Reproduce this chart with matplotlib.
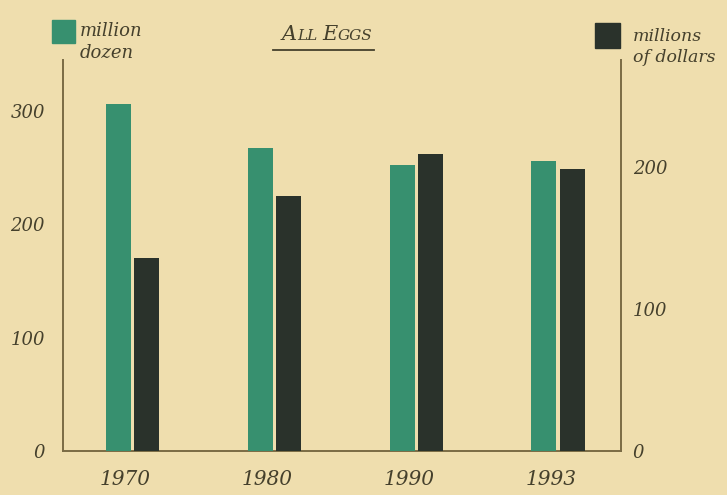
import matplotlib.pyplot as plt
import numpy as np
from matplotlib.offsetbox import TextArea, HPacker, AnchoredOffsetbox
from matplotlib.patches import Rectangle
from matplotlib.lines import Line2D

years = ['1970', '1980', '1990', '1993']
dozens = [306, 267, 252, 256]      # million dozen (left axis)
dollars = [136, 179, 209, 198]     # millions of dollars (right axis)
left_ticks = [0, 100, 200, 300]
right_ticks = [0, 100, 200]

bg = '#EFDEAE'
green = '#37906F'
dark = '#2A322B'
line_col = '#7A6B45'
txt_col = '#45402C'
serif = ['DejaVu Serif']

fig = plt.figure(figsize=(7.27, 4.95), dpi=100, facecolor=bg)
ax = fig.add_axes([63 / 727, 44 / 495, (621 - 63) / 727, (451 - 60) / 495])
ax.set_facecolor(bg)
ax2 = ax.twinx()

x = np.arange(len(years))
w = 0.176
off = 0.099
ax.bar(x - off, dozens, w, color=green, zorder=3)
ax2.bar(x + off, dollars, w, color=dark, zorder=3)

ax.set_xlim(-0.49, 3.444)
ax.set_ylim(0, 345)
ax2.set_ylim(0, 275)

ax.set_yticks(left_ticks)
ax2.set_yticks(right_ticks)
ax.set_xticks(x - 0.05)
ax.set_xticklabels(years)

for a in (ax, ax2):
    a.spines['top'].set_visible(False)
    for s in ('left', 'right', 'bottom'):
        a.spines[s].set_color(line_col)
        a.spines[s].set_linewidth(1.4)
ax.spines['right'].set_visible(False)
ax2.spines['left'].set_visible(False)
ax2.spines['bottom'].set_visible(False)

ax.tick_params(axis='y', length=0, pad=13, labelsize=13, labelcolor=txt_col)
ax2.tick_params(axis='y', length=0, pad=8.5, labelsize=13, labelcolor=txt_col)
ax.tick_params(axis='x', length=0, pad=14, labelsize=14.5, labelcolor=txt_col)
for lab in ax.get_yticklabels() + ax2.get_yticklabels() + ax.get_xticklabels():
    lab.set_family(serif)
    lab.set_style('italic')

# title in small caps
big = dict(size=15, style='italic', family=serif, color=txt_col)
small = dict(size=11, style='italic', family=serif, color=txt_col)
parts = [TextArea('A', textprops=big), TextArea('LL ', textprops=small),
         TextArea('E', textprops=big), TextArea('GGS', textprops=small)]
box = HPacker(children=parts, align='baseline', pad=0, sep=0)
anch = AnchoredOffsetbox(loc='center', child=box, frameon=False,
                         bbox_to_anchor=(327 / 727, 1 - 34 / 495),
                         bbox_transform=fig.transFigure, borderpad=0, pad=0)
fig.add_artist(anch)
fig.add_artist(Line2D([273 / 727, 374 / 727], [1 - 50 / 495, 1 - 50 / 495],
                      color=txt_col, lw=1.3))

# legend keys
fig.add_artist(Rectangle((52 / 727, 1 - 43 / 495), 23 / 727, 23 / 495,
                         transform=fig.transFigure, color=green))
fig.text(80 / 727, 1 - 42 / 495, 'million\ndozen', ha='left', va='center',
         fontsize=13, style='italic', family=serif, color=txt_col, linespacing=1.3)
fig.add_artist(Rectangle((595 / 727, 1 - 48 / 495), 25 / 727, 25 / 495,
                         transform=fig.transFigure, color=dark))
fig.text(633 / 727, 1 - 47 / 495, 'millions\nof dollars', ha='left', va='center',
         fontsize=12.5, style='italic', family=serif, color=txt_col, linespacing=1.3)

fig.savefig('out.png', dpi=100, facecolor=bg)
